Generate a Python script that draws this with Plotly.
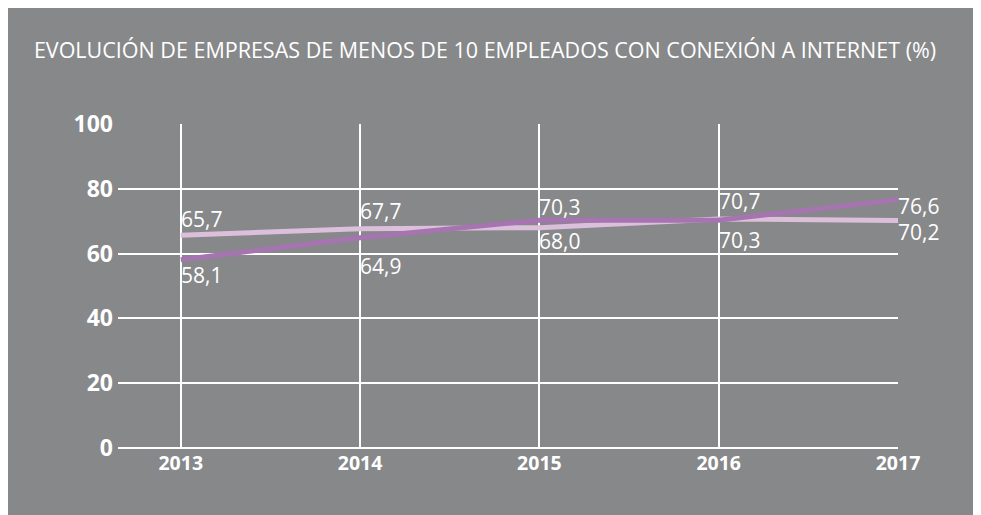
import plotly.graph_objects as go

years = [2013, 2014, 2015, 2016, 2017]
serie_clara = [65.7, 67.7, 68.0, 70.7, 70.2]
serie_morada = [58.1, 64.9, 70.3, 70.3, 76.6]
y_ticks = [0, 20, 40, 60, 80, 100]
title_text = "EVOLUCIÓN DE EMPRESAS DE MENOS DE 10 EMPLEADOS CON CONEXIÓN A INTERNET (%)"

BG = "#87888a"
C_LIGHT = "#dbbfdb"
C_PURPLE = "#a674b0"

# label vertical shifts (px, positive = up) - styling
shift_light = [16.6, 17.7, -13.3, 18.4, -11.9]
shift_purple = [-15.2, -27.8, 13.7, -19.3, -5.7]

def fmt(v):
    return f"{v:.1f}".replace(".", ",")

fig = go.Figure()
fig.add_trace(go.Scatter(x=years, y=serie_clara, mode="lines",
                         line=dict(color=C_LIGHT, width=5), hoverinfo="skip"))
fig.add_trace(go.Scatter(x=years, y=serie_morada, mode="lines",
                         line=dict(color=C_PURPLE, width=5), hoverinfo="skip"))

annots = []
for vals, shifts in ((serie_clara, shift_light), (serie_morada, shift_purple)):
    for x, v, s in zip(years, vals, shifts):
        annots.append(dict(x=x, y=v, xref="x", yref="y", text=fmt(v),
                           showarrow=False, xanchor="left", yanchor="middle",
                           xshift=-2, yshift=s,
                           font=dict(family="Open Sans", size=21, color="white")))

W, H = 971, 507
fig.update_layout(
    width=W, height=H,
    margin=dict(l=110, r=W - 890, t=116, b=H - 440),
    paper_bgcolor=BG, plot_bgcolor=BG,
    showlegend=False,
    title=dict(text=title_text, x=477 / W, xanchor="center", xref="container",
               y=1 - 42 / H, yanchor="middle", yref="container",
               font=dict(family="Open Sans", size=21.5, color="white")),
    annotations=annots,
)
fig.update_xaxes(range=[2012.65, 2017], tickvals=years, ticktext=[str(y) for y in years],
                 showgrid=True, gridcolor="white", gridwidth=1.5, zeroline=False,
                 showline=False, ticks="", ticklabelstandoff=1,
                 tickfont=dict(family="Open Sans", size=19.5, color="white", weight="bold"))
fig.update_yaxes(range=[0, 100], tickvals=y_ticks, showgrid=True, gridcolor="white",
                 gridwidth=1.5, zeroline=True, zerolinecolor="white", zerolinewidth=2,
                 showline=False, ticks="", ticklabelstandoff=4,
                 tickfont=dict(family="Open Sans", size=23, color="white", weight="bold"))

fig.write_html(
    "out.html",
    post_script="document.documentElement.style.overflow='hidden';"
                "document.body.style.overflow='hidden';",
)
